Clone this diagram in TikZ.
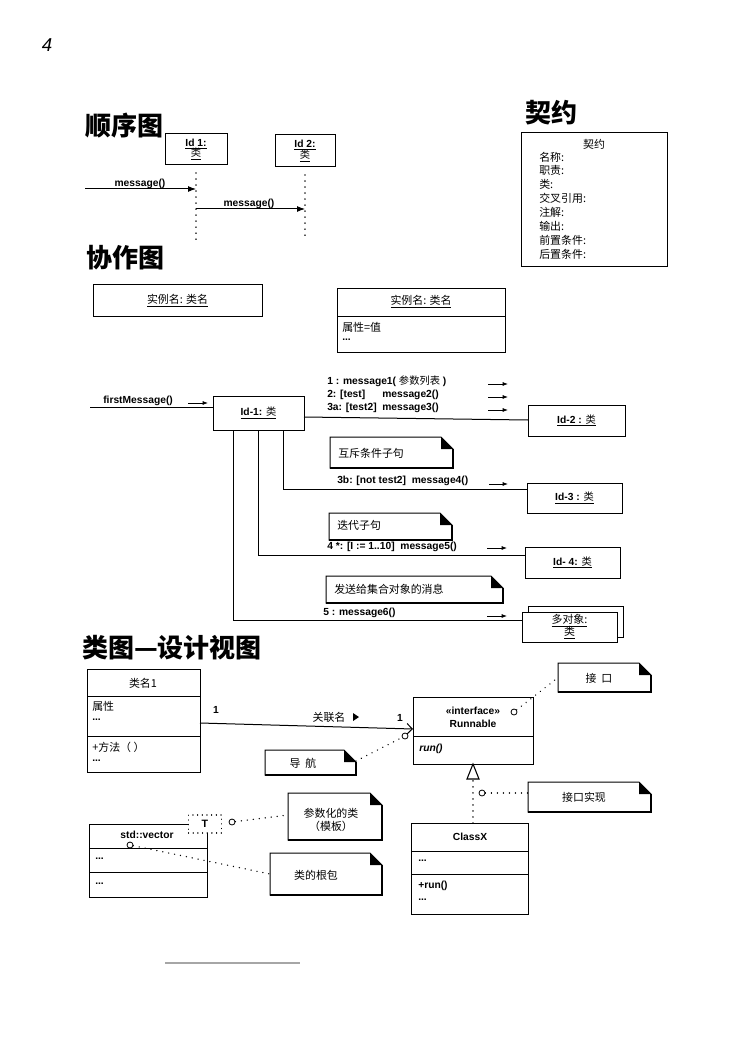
\documentclass[tikz,border=0pt]{standalone}
\usepackage{fontspec}
\setmainfont{Liberation Sans}
\newfontfamily\cjk{Noto Sans CJK SC}
\usetikzlibrary{arrows.meta}
\newcommand\zhs[1]{{\cjk\mdseries #1}}
\tikzset{
  box/.style={draw, line width=0.75pt, fill=white, inner sep=0pt, outer sep=0pt, rectangle},
  notebase/.style={inner sep=0pt, outer sep=0pt, rectangle},
  lbl/.style={font=\bfseries\fontsize{7.7}{9}\selectfont, inner sep=0pt},
  zh/.style={font=\cjk\fontsize{8.2}{10}\selectfont, inner sep=0pt},
  head/.style={font=\cjk\bfseries\fontsize{19.5}{22}\selectfont, inner sep=0pt},
  msg/.style={-{Latex[length=6pt,width=4.5pt]}, line width=0.75pt},
  smarr/.style={-{Latex[length=4pt,width=3pt]}, line width=0.6pt},
  link/.style={line width=0.75pt},
  dotl/.style={line width=1.1pt, dash pattern=on 0.01pt off 4.5pt, line cap=round},
  circ/.style={circle, draw, line width=0.6pt, fill=white, inner sep=0pt, minimum size=4.5pt},
}
\newcommand\pbox[6][]{%
  \node[box, #1, anchor=north west, minimum width={(#4-#2)*0.75pt}, minimum height={(#6-#3)*0.75pt}] (#5) at (#2,#3) {};}
\newcommand\notebx[5]{%
  \node[notebase, anchor=north west, minimum width={(#4-#2)*0.75pt}, minimum height={(#5-#3)*0.75pt}] (#1) at (#2,#3) {};
  \draw[line width=0.75pt, fill=white] (#1.north west) -- ([xshift=-9pt]#1.north east) -- ([yshift=-9pt]#1.north east) -- (#1.south east) -- (#1.south west) -- cycle;
  \fill ([xshift=-9pt]#1.north east) -- ([xshift=-9pt,yshift=-9pt]#1.north east) -- ([yshift=-9pt]#1.north east) -- cycle;
  \draw[line width=1.3pt] ([yshift=-9pt]#1.north east) -- (#1.south east) -- (#1.south west);}
\begin{document}
\begin{tikzpicture}[x=0.75pt,y=-0.75pt]
\useasboundingbox (0,0) rectangle (753,1062);
\fill[white] (0,0) rectangle (753,1062);

% page number
\node[font=\itshape\fontsize{14}{14}\selectfont, inner sep=0pt] (pg) at (47,45) {4};

% headings
\node[head] (h1) at (124,126) {顺序图};
\node[head] (h2) at (551,113) {契约};
\node[head] (h3) at (125,258) {协作图};
\node[head] (h4) at (172,648) {类图—设计视图};

% ---------------- sequence diagram
\pbox{165}{134}{227}{id1}{165}
\node[lbl, align=center] (id1t) at (id1.center) {\underline{Id 1:}\\[-1pt]\underline{\zhs{类}}};
\pbox{275}{135}{335}{id2}{167}
\node[lbl, align=center] (id2t) at (id2.center) {\underline{Id 2:}\\[-1pt]\underline{\zhs{类}}};
\coordinate (l1) at (196,240);
\coordinate (l2) at (305,240);
\draw[dotl] ([yshift=-6pt]id1.south) -- (l1);
\draw[dotl] ([yshift=-6pt]id2.south) -- (l2);
\coordinate (s1) at (85,189);
\coordinate (s2) at (196,209);
\draw[msg] (s1) -- (s1 -| id1.south);
\draw[msg] (id1.south |- s2) -- (s2 -| id2.south);
\node[lbl] (m1) at (140,184) {message()};
\node[lbl] (m2) at (249,204) {message()};

% ---------------- contract
\pbox{521}{133}{667}{ct}{267}
\node[zh] (ctt) at (594,144) {契约};
\node[zh, anchor=west] at (539,157) {名称:};
\node[zh, anchor=west] at (539,170) {职责:};
\node[zh, anchor=west] at (539,184) {类:};
\node[zh, anchor=west] at (539,198) {交叉引用:};
\node[zh, anchor=west] at (539,212) {注解:};
\node[zh, anchor=west] at (539,226) {输出:};
\node[zh, anchor=west] at (539,240) {前置条件:};
\node[zh, anchor=west] at (539,254) {后置条件:};

% ---------------- collaboration
\pbox{93}{285}{262}{ia}{316}
\node[zh] (iat) at (ia.center) {\underline{实例名: 类名}};
\pbox{337}{289}{505}{ib}{352}
\draw[link] (ib.west |- 0,316) -- (ib.east |- 0,316);
\node[zh] (ibt) at (421,302) {\underline{实例名: 类名}};
\node[zh, anchor=west] (ibv) at (342,327) {属性=值};
\node[lbl, anchor=west] (ibd) at (342,340) {...};

% links (drawn before boxes)
\coordinate (fm) at (90,407);
\coordinate (k3) at (283,489);
\coordinate (k4) at (258,555);
\coordinate (k5) at (233,620);
\pbox{213}{396}{304}{c1}{430}
\pbox{528}{405}{625}{c2}{436}
\pbox{527}{483}{622}{c3}{513}
\pbox{525}{547}{620}{c4}{578}
\pbox{528}{606}{623}{c5b}{637}
\pbox{522}{612}{617}{c5}{642}
\draw[link] (fm) -- (fm -| c1.west);
\draw[link] (c1.east |- 0,417) -- (c2.west |- 0,420);
\draw[link] (c1.south -| k3) -- (k3) -- (k3 -| c3.west);
\draw[link] (c1.south -| k4) -- (k4) -- (k4 -| c4.west);
\draw[link] (c1.south -| k5) -- (k5) -- (k5 -| c5.west);

\node[lbl] (c1t) at (c1.center) {\underline{Id-1: \zhs{类}}};
\node[lbl] (c2t) at (c2.center) {\underline{Id-2 : \zhs{类}}};
\node[lbl] (c3t) at (c3.center) {\underline{Id-3 : \zhs{类}}};
\node[lbl] (c4t) at (c4.center) {\underline{Id- 4: \zhs{类}}};
\node[zh, align=center] (c5t) at (c5.center) {\underline{多对象:}\\[-1pt]\underline{类}};

\node[lbl, anchor=south west] (fmt) at (103,406) {firstMessage()};
\draw[smarr] (188,403) -- (208,403);

\node[lbl, anchor=west] at (327,381) {1 : message1( \zhs{参数列表} )};
\node[lbl, anchor=west] at (327,395) {2: [test]};
\node[lbl, anchor=west] at (382,395) {message2()};
\node[lbl, anchor=west] at (327,408) {3a: [test2]};
\node[lbl, anchor=west] at (382,408) {message3()};
\draw[smarr] (488,384) -- (508,384);
\draw[smarr] (488,397) -- (508,397);
\draw[smarr] (488,410) -- (508,410);

\notebx{n1}{330}{437}{453}{468}
\node[zh, anchor=west] at (338,453) {互斥条件子句};
\node[lbl, anchor=west] at (337,481) {3b: [not test2]\ \ message4()};
\draw[smarr] (489,484) -- (508,484);

\notebx{n2}{329}{513}{452}{540}
\node[zh, anchor=west] at (337,525) {迭代子句};
\node[lbl, anchor=west] at (327,547) {4 *: [I := 1..10]\ \ message5()};
\draw[smarr] (487,548) -- (507,548);

\notebx{n3}{326}{576}{503}{603}
\node[zh, anchor=west] at (334,589) {发送给集合对象的消息};
\node[lbl, anchor=west] at (323,613) {5 : message6()};
\draw[smarr] (487,616) -- (507,616);

% ---------------- class diagram
\pbox{87}{669}{200}{k1}{772}
\draw[link] (k1.west |- 0,696) -- (k1.east |- 0,696);
\draw[link] (k1.west |- 0,736) -- (k1.east |- 0,736);
\node[zh] (k1t) at (143,683) {类名1};
\node[zh, anchor=west] at (92,706) {属性};
\node[lbl, anchor=west] at (92,720) {...};
\node[zh, anchor=west] at (92,747) {+方法（ ）};
\node[lbl, anchor=west] at (92,761) {...};

\pbox{413}{697}{533}{run}{764}
\draw[link] (run.west |- 0,736) -- (run.east |- 0,736);
\node[lbl] (runs) at (473,711) {«interface»};
\node[lbl] (runn) at (473,724) {Runnable};
\node[lbl, anchor=west, font=\bfseries\itshape\fontsize{7.7}{9}\selectfont] (runm) at (419,749) {run()};

\draw[link, -{Straight Barb[length=4pt,width=8pt]}] (k1.east |- 0,723) -- (run.west |- 0,729);
\node[lbl] at (216,710) {1};
\node[zh] at (329,717) {关联名};
\fill (353,713) -- (353,721) -- (359,717) -- cycle;
\node[lbl] at (400,718) {1};

\notebx{nv}{265}{750}{356}{775}
\node[zh] at (303,763) {导\ \ 航};
\node[circ] (o1) at (405,736) {};
\draw[dotl] (nv.east |- 0,761) -- (o1);

\notebx{ni}{558}{663}{651}{692}
\node[zh] at (599,678) {接\ \ 口};
\node[circ] (o2) at (514,712) {};
\draw[dotl] (o2) -- (ni.west);

% realization
\pbox{411}{823}{528}{cx}{914}
\draw[link] (cx.west |- 0,851) -- (cx.east |- 0,851);
\draw[link] (cx.west |- 0,874) -- (cx.east |- 0,874);
\node[lbl] (cxt) at (470,837) {ClassX};
\node[lbl, anchor=west] at (418,861) {...};
\node[lbl, anchor=west] at (418,886) {+run()};
\node[lbl, anchor=west] at (418,900) {...};
\coordinate (tb) at (473,779);
\draw[dotl] (tb |- cx.north) -- (tb);
\draw[line width=0.8pt, fill=white] (run.south) -- ([xshift=-4.5pt]tb) -- ([xshift=4.5pt]tb) -- cycle;

\notebx{nr}{528}{782}{651}{812}
\node[zh] at (584,797) {接口实现};
\node[circ] (o3) at (482,793) {};
\draw[dotl] (o3) -- (o3 -| nr.west);

% std::vector
\pbox{89}{824}{207}{sv}{897}
\draw[link] (sv.west |- 0,848) -- (sv.east |- 0,848);
\draw[link] (sv.west |- 0,872) -- (sv.east |- 0,872);
\node[lbl] (svt) at (147,835) {std::vector};
\node[lbl, anchor=west] at (95,859) {...};
\node[lbl, anchor=west] at (95,884) {...};
\node[draw, fill=white, line width=1pt, dash pattern=on 0.01pt off 3.5pt, line cap=round, minimum width=24.75pt, minimum height=13.5pt, inner sep=0pt, font=\bfseries\fontsize{8}{9}\selectfont] (tp) at (205,824) {T};
\node[circ] (o5) at (232,822) {};
\notebx{np}{288}{793}{382}{840}
\node[zh, align=center] at (331,820) {参数化的类\\（模板）};
\draw[dotl] (o5) -- (np.west |- 0,815);

\node[circ] (o4) at (130,845) {};
\notebx{ng}{270}{853}{382}{895}
\node[zh] at (316,875) {类的根包};
\draw[dotl] (o4) -- (ng.west);

% scan mark
\draw[gray!70, line width=1pt] (165,963) -- (300,963);
\end{tikzpicture}
\end{document}
